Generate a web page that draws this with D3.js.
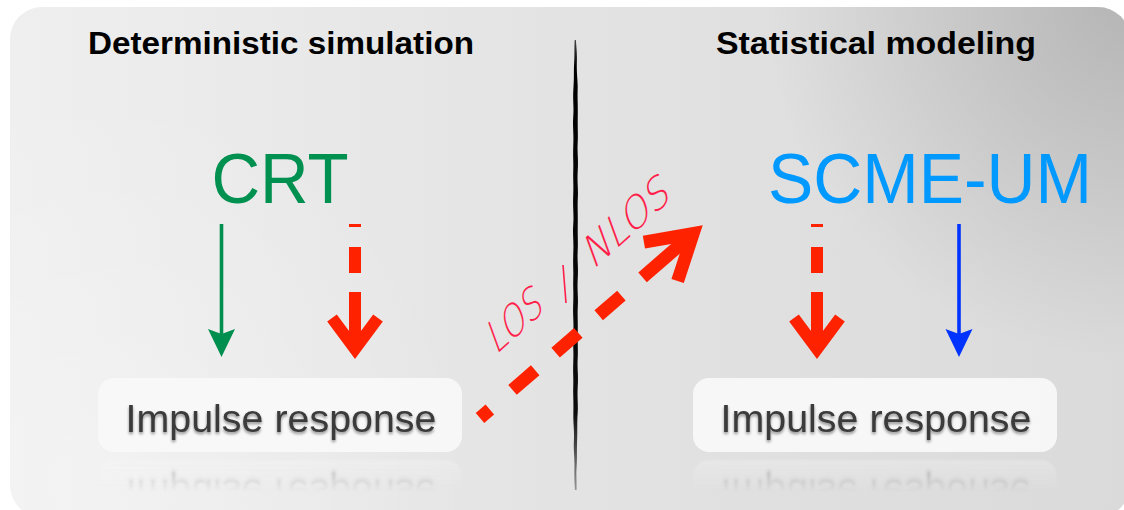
<!DOCTYPE html>
<html><head><meta charset="utf-8">
<script src="https://cdn.jsdelivr.net/npm/d3@7"></script>
<style>html,body{margin:0;padding:0;background:#fff;overflow:hidden}svg{display:block}</style>
</head><body>
<svg id="c" width="1124" height="510"></svg>
<script>
// ---- content ----
const panelTitles = ["Deterministic simulation", "Statistical modeling"];
const modelNames  = ["CRT", "SCME-UM"];
const boxLabels   = ["Impulse response", "Impulse response"];
const linkLabels  = ["LOS", "NLOS"];

(function () {
const W = 1124, H = 510;
const svg = d3.select("#c");
const defs = svg.append("defs");

// scales for panel placement
const titleX = d3.scalePoint().domain(panelTitles).range([281, 876]);
const modelX = d3.scalePoint().domain(modelNames).range([280, 930]);
const boxX   = d3.scalePoint().domain([0, 1]).range([280, 875]);

// ---- background ----
const lg = defs.append("linearGradient").attr("id", "bg").attr("x1", 0).attr("x2", 1).attr("y1", 0).attr("y2", 0);
lg.append("stop").attr("offset", 0).attr("stop-color", "#efefef");
lg.append("stop").attr("offset", 0.5).attr("stop-color", "#e3e3e3");
lg.append("stop").attr("offset", 1).attr("stop-color", "#dadada");
const rg = defs.append("radialGradient").attr("id", "vig").attr("gradientUnits", "userSpaceOnUse")
  .attr("cx", 1124).attr("cy", 0).attr("r", 360);
rg.append("stop").attr("offset", 0).attr("stop-color", "#000").attr("stop-opacity", 0.17);
rg.append("stop").attr("offset", 1).attr("stop-color", "#000").attr("stop-opacity", 0);
const rg2 = defs.append("radialGradient").attr("id", "vig2").attr("gradientUnits", "userSpaceOnUse")
  .attr("cx", 80).attr("cy", 480).attr("r", 400);
rg2.append("stop").attr("offset", 0).attr("stop-color", "#fff").attr("stop-opacity", 0.3);
rg2.append("stop").attr("offset", 1).attr("stop-color", "#fff").attr("stop-opacity", 0);

const panel = {x: 10, y: 7, w: 1120, h: 510, r: 32};
["url(#bg)", "url(#vig)", "url(#vig2)"].forEach(f =>
  svg.append("rect").attr("x", panel.x).attr("y", panel.y).attr("width", panel.w).attr("height", panel.h)
    .attr("rx", panel.r).attr("fill", f));

// ---- filters ----
const sh = defs.append("filter").attr("id", "tshadow").attr("x", "-10%").attr("y", "-30%").attr("width", "120%").attr("height", "170%");
sh.append("feGaussianBlur").attr("in", "SourceAlpha").attr("stdDeviation", 1.6).attr("result", "b");
sh.append("feOffset").attr("in", "b").attr("dx", 0).attr("dy", 2).attr("result", "o");
sh.append("feComponentTransfer").attr("in", "o").attr("result", "oa")
  .append("feFuncA").attr("type", "linear").attr("slope", 0.45);
const mg = sh.append("feMerge");
mg.append("feMergeNode").attr("in", "oa");
mg.append("feMergeNode").attr("in", "SourceGraphic");

const soft = defs.append("filter").attr("id", "soft").attr("x", "-5%").attr("y", "-20%").attr("width", "110%").attr("height", "140%");
soft.append("feGaussianBlur").attr("stdDeviation", 1.0);

const rough = defs.append("filter").attr("id", "rough");
rough.append("feGaussianBlur").attr("stdDeviation", 0.45);

// ---- titles ----
svg.selectAll("text.title").data(panelTitles).join("text")
  .attr("class", "title")
  .attr("x", d => titleX(d)).attr("y", 54)
  .attr("text-anchor", "middle")
  .attr("font-family", "Liberation Sans, Arial, sans-serif")
  .attr("font-weight", "bold").attr("font-size", 31)
  .attr("textLength", (d, i) => i === 0 ? 386 : 320)
  .attr("lengthAdjust", "spacingAndGlyphs")
  .attr("fill", "#000")
  .text(d => d);

// ---- model names ----
const modelColor = ["#009050", "#0099ff"];
svg.selectAll("text.model").data(modelNames).join("text")
  .attr("class", "model")
  .attr("x", d => modelX(d)).attr("y", 203)
  .attr("text-anchor", "middle")
  .attr("font-family", "Liberation Sans, Arial, sans-serif")
  .attr("font-size", 70)
  .attr("textLength", (d, i) => i === 0 ? 137 : 324)
  .attr("lengthAdjust", "spacingAndGlyphs")
  .attr("fill", (d, i) => modelColor[i])
  .text(d => d);

// ---- divider ----
const divX = 575.5;
const divPts = [];
const ys = d3.range(40, 493, 9);
ys.forEach((y, i) => {
  const t = (y - 40) / 452;
  const w = 1.2 + 3.0 * Math.min(1, t * 8, (1 - t) * 5) + ((i * 7) % 4) * 0.2;
  const off = ((i * 13) % 3 - 1) * 0.25;
  divPts.push([divX - w / 2 + off, y, divX + w / 2 + off]);
});
const divArea = d3.area().x0(d => d[0]).x1(d => d[2]).y(d => d[1]).curve(d3.curveBasis);
const dg = defs.append("linearGradient").attr("id", "divg").attr("gradientUnits", "userSpaceOnUse")
  .attr("x1", 0).attr("x2", 0).attr("y1", 40).attr("y2", 495);
dg.append("stop").attr("offset", 0).attr("stop-color", "#000").attr("stop-opacity", 0.7);
dg.append("stop").attr("offset", 0.06).attr("stop-color", "#000").attr("stop-opacity", 1);
dg.append("stop").attr("offset", 0.82).attr("stop-color", "#000").attr("stop-opacity", 0.95);
dg.append("stop").attr("offset", 1).attr("stop-color", "#000").attr("stop-opacity", 0.3);
svg.append("path").attr("d", divArea(divPts)).attr("fill", "url(#divg)").attr("filter", "url(#rough)");

// ---- boxes + reflections ----
const boxW = 364, boxH = 74, boxY = 378, mirrorY = 456;
const mask = defs.append("linearGradient").attr("id", "mfade").attr("gradientUnits", "userSpaceOnUse")
  .attr("x1", 0).attr("x2", 0).attr("y1", mirrorY + 4).attr("y2", mirrorY + 36);
mask.append("stop").attr("offset", 0).attr("stop-color", "#fff").attr("stop-opacity", 0.32);
mask.append("stop").attr("offset", 1).attr("stop-color", "#fff").attr("stop-opacity", 0);
defs.append("mask").attr("id", "refl").attr("maskUnits", "userSpaceOnUse")
  .append("rect").attr("x", 0).attr("y", mirrorY).attr("width", W).attr("height", 60).attr("fill", "url(#mfade)");

function drawBox(g, cx, label) {
  g.append("rect").attr("x", cx - boxW / 2).attr("y", boxY).attr("width", boxW).attr("height", boxH)
    .attr("rx", 16).attr("fill", "#f9f9f9").attr("fill-opacity", 0.92);
  g.append("text").attr("x", cx + 1).attr("y", 432)
    .attr("text-anchor", "middle")
    .attr("font-family", "Liberation Sans, Arial, sans-serif")
    .attr("font-size", 39).attr("textLength", 311).attr("lengthAdjust", "spacingAndGlyphs")
    .attr("fill", "#3a3a3a")
    .attr("filter", "url(#tshadow)")
    .text(label);
}
boxLabels.forEach((lab, i) => {
  const cx = boxX(i);
  const g = svg.append("g").attr("id", "box" + i);
  drawBox(g, cx, lab);
  svg.append("g").attr("mask", "url(#refl)")
    .append("use").attr("href", "#box" + i)
    .attr("transform", `translate(0,${2 * mirrorY}) scale(1,-1)`).attr("filter", "url(#soft)");
});

// ---- solid arrows (green / blue) ----
const solidArrows = [{x: 221.5, c: "#008f4f"}, {x: 959, c: "#0033ff"}];
const arrowTop = 224, arrowTip = 357;
solidArrows.forEach(a => {
  svg.append("line").attr("x1", a.x).attr("x2", a.x).attr("y1", arrowTop).attr("y2", arrowTip - 20)
    .attr("stroke", a.c).attr("stroke-width", 3.6);
  svg.append("path")
    .attr("d", d3.line()([[a.x, arrowTip], [a.x - 13.5, arrowTip - 28], [a.x, arrowTip - 23], [a.x + 13.5, arrowTip - 28]]) + "Z")
    .attr("fill", a.c);
});

// ---- red dash-dot arrows ----
const red = "#ff2200";
[355, 817].forEach(x => {
  svg.append("line").attr("x1", x).attr("x2", x).attr("y1", 224).attr("y2", 348)
    .attr("stroke", red).attr("stroke-width", 12)
    .attr("stroke-dasharray", "3,20,26,19,300");
  svg.append("path").attr("d", d3.line()([[x - 23, 318], [x, 349], [x + 23, 318]]))
    .attr("fill", "none").attr("stroke", red).attr("stroke-width", 12)
    .attr("stroke-linejoin", "miter").attr("stroke-miterlimit", 10);
});

// ---- diagonal LOS/NLOS arrow ----
const S = [480, 418], T = [703, 225];
const L = Math.hypot(T[0] - S[0], T[1] - S[1]);
const u = [(T[0] - S[0]) / L, (T[1] - S[1]) / L];
const vtx = [T[0] - u[0] * 13, T[1] - u[1] * 13];
svg.append("line").attr("x1", S[0]).attr("y1", S[1]).attr("x2", vtx[0] - u[0] * 4).attr("y2", vtx[1] - u[1] * 4)
  .attr("stroke", red).attr("stroke-width", 13)
  .attr("stroke-dasharray", "13,30,30,27,30,27,30,28,300");
function rot(v, deg) { const r = deg * Math.PI / 180; return [v[0] * Math.cos(r) - v[1] * Math.sin(r), v[0] * Math.sin(r) + v[1] * Math.cos(r)]; }
const back = [-u[0], -u[1]], armLen = 50;
const a1 = rot(back, 31), a2 = rot(back, -31);
svg.append("path").attr("d", d3.line()([
    [vtx[0] + a1[0] * armLen, vtx[1] + a1[1] * armLen], vtx,
    [vtx[0] + a2[0] * armLen, vtx[1] + a2[1] * armLen]]))
  .attr("fill", "none").attr("stroke", red).attr("stroke-width", 13)
  .attr("stroke-linejoin", "miter").attr("stroke-miterlimit", 10);

// ---- LOS / NLOS handwritten labels ----
const lblPos = [{x: 496, y: 355, a: -42, len: 66}, {x: 593, y: 270, a: -42, len: 106}];
svg.selectAll("text.lbl").data(linkLabels).join("text")
  .attr("class", "lbl")
  .attr("transform", (d, i) => `translate(${lblPos[i].x},${lblPos[i].y}) rotate(${lblPos[i].a}) skewX(-22)`)
  .attr("font-family", "DejaVu Sans, sans-serif").attr("font-weight", 200)
  .attr("font-size", 40)
  .attr("textLength", (d, i) => lblPos[i].len).attr("lengthAdjust", "spacingAndGlyphs")
  .attr("fill", "#ff1f4b")
  .text(d => d);
svg.append("line").attr("x1", 563).attr("y1", 265).attr("x2", 566).attr("y2", 303)
  .attr("stroke", "#ff1f4b").attr("stroke-width", 1.6);
})();
</script>
</body></html>
